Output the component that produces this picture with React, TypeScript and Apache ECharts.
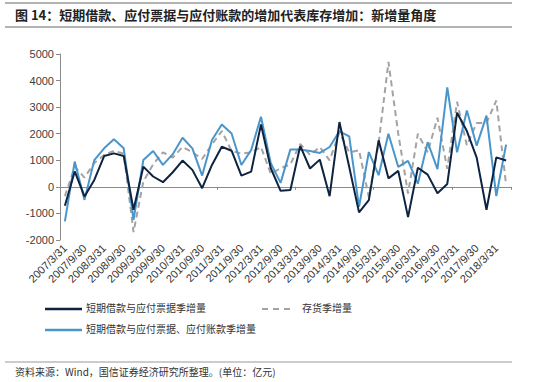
import React, { useEffect, useRef } from "react";
import * as echarts from "echarts";

const categories: string[] = [];
const qEnds = ["3/31", "6/30", "9/30", "12/31"];
for (let y = 2007; y <= 2018; y++) {
  for (let q = 0; q < 4; q++) {
    if (y === 2018 && q > 1) break;
    categories.push(`${y}/${qEnds[q]}`);
  }
}

const seriesNames = [
  "短期借款与应付票据季增量",
  "存货季增量",
  "短期借款与应付票据、应付账款季增量",
];

const shortLoanBills = [
  -710, 580, -360, 260, 1160, 1260, 1160, -860, 760, 390, 175, 550,
  990, 640, -50, 825, 1510, 1360, 425, 575, 2350, 700, -150, -120,
  1540, 690, 1025, -350, 2440, 750, -960, -500, 1750, 320, 600, -1140,
  720, 460, -240, 110, 2790, 2100, 1100, -860, 1110, 990,
];

const inventory = [
  -350, 750, 350, 900, 1200, 1350, 1250, -1700, 200, 850, 1300, 1100,
  1500, 1300, 1050, 1600, 2100, 1350, 1250, 1300, 1500, 490, 700, 850,
  1620, 1200, 1500, 1000, 2050, 1300, 1380, -380, 1650, 4700, 2000, -250,
  2000, 1300, 2600, 680, 3200, 1560, 2400, 2400, 3250, 80,
];

const shortLoanBillsPayables = [
  -1300, 950, -490, 1010, 1450, 1790, 1450, -1240, 1010, 1350, 825, 1230,
  1850, 1450, 425, 1760, 2350, 2010, 825, 1390, 2640, 890, 150, 1410,
  1410, 1350, 1275, 1500, 2090, 1900, -750, 1310, 440, 2000, 750, 980,
  120, 1680, 670, 3740, 1300, 2870, 1550, 2680, -345, 1590,
];

const titleText = "图 14：短期借款、应付票据与应付账款的增加代表库存增加：新增量角度";
const sourceText = "资料来源：Wind，国信证券经济研究所整理。(单位：亿元)";

const colors = ["#0e2340", "#a3a3a3", "#4a96cb"];

export default function App() {
  const ref = useRef<HTMLDivElement>(null);
  useEffect(() => {
    if (!ref.current) return;
    const chart = echarts.init(ref.current, undefined, { renderer: "svg" });
    const axisColor = "#8a8a8a";
    const cjk = "'Noto Sans CJK SC', sans-serif";
    const legendText = (text: string, x: number, y: number) => ({
      type: "text",
      left: x,
      top: y - 7,
      style: { text, fontSize: 10, fill: "#333", fontFamily: cjk },
    });
    chart.setOption({
      animation: false,
      backgroundColor: "#ffffff",
      grid: { left: 60, right: 39, top: 54, bottom: 142, containLabel: false },
      xAxis: [
        {
          type: "category",
          data: categories,
          boundaryGap: true,
          axisLine: { onZero: true, lineStyle: { color: axisColor, width: 1 } },
          axisTick: { show: true, length: 3, lineStyle: { color: axisColor } },
          axisLabel: { show: false },
          splitLine: { show: false },
        },
        {
          type: "category",
          data: categories,
          position: "bottom",
          boundaryGap: true,
          axisLine: { show: false, onZero: false },
          axisTick: { show: false },
          axisLabel: {
            show: true,
            interval: 1,
            rotate: 45,
            margin: 6,
            fontSize: 11,
            color: "#333",
            fontFamily: "'Liberation Sans', Arial, sans-serif",
          },
        },
      ],
      yAxis: {
        type: "value",
        min: -2000,
        max: 5000,
        interval: 1000,
        axisLine: { show: true, lineStyle: { color: axisColor } },
        axisTick: { show: true, length: 4, lineStyle: { color: axisColor } },
        axisLabel: {
          fontSize: 11,
          color: "#404040",
          margin: 6,
          fontFamily: "'Liberation Sans', Arial, sans-serif",
          formatter: (v: number) => String(v),
        },
        splitLine: { show: false },
      },
      series: [
        {
          name: seriesNames[1],
          type: "line",
          data: inventory,
          showSymbol: false,
          symbol: "none",
          lineStyle: { color: colors[1], width: 2, type: [6, 4] },
          itemStyle: { color: colors[1] },
          z: 1,
        },
        {
          name: seriesNames[2],
          type: "line",
          data: shortLoanBillsPayables,
          showSymbol: false,
          symbol: "none",
          lineStyle: { color: colors[2], width: 2 },
          itemStyle: { color: colors[2] },
          z: 2,
        },
        {
          name: seriesNames[0],
          type: "line",
          data: shortLoanBills,
          showSymbol: false,
          symbol: "none",
          lineStyle: { color: colors[0], width: 2 },
          itemStyle: { color: colors[0] },
          z: 3,
        },
      ],
      graphic: [
        {
          type: "line",
          shape: { x1: 5, y1: 3, x2: 512, y2: 3 },
          style: { stroke: "#9a9a9a", lineWidth: 1.5 },
        },
        {
          type: "text",
          left: 15,
          top: 8,
          style: {
            text: titleText,
            fontSize: 13,
            fontWeight: "bold",
            fill: "#222",
            fontFamily: cjk,
          },
        },
        {
          type: "line",
          shape: { x1: 5, y1: 27, x2: 512, y2: 27 },
          style: { stroke: "#9a9a9a", lineWidth: 1.5 },
        },
        // legend
        {
          type: "line",
          shape: { x1: 45, y1: 309, x2: 82, y2: 309 },
          style: { stroke: colors[0], lineWidth: 2.5 },
        },
        legendText(seriesNames[0], 86, 309),
        {
          type: "line",
          shape: { x1: 262, y1: 309, x2: 294, y2: 309 },
          style: { stroke: colors[1], lineWidth: 2, lineDash: [6, 5] },
        },
        legendText(seriesNames[1], 302, 309),
        {
          type: "line",
          shape: { x1: 45, y1: 330, x2: 82, y2: 330 },
          style: { stroke: colors[2], lineWidth: 2.5 },
        },
        legendText(seriesNames[2], 86, 330),
        {
          type: "line",
          shape: { x1: 5, y1: 362, x2: 512, y2: 362 },
          style: { stroke: "#9a9a9a", lineWidth: 1.2 },
        },
        {
          type: "text",
          left: 15,
          top: 366,
          style: {
            text: sourceText,
            fontSize: 10,
            fill: "#333",
            fontFamily: cjk,
          },
        },
      ],
    });
    return () => chart.dispose();
  }, []);
  return (
    <div
      ref={ref}
      style={{ position: "fixed", left: 0, top: 0, width: 550, height: 382, background: "#fff" }}
    />
  );
}
